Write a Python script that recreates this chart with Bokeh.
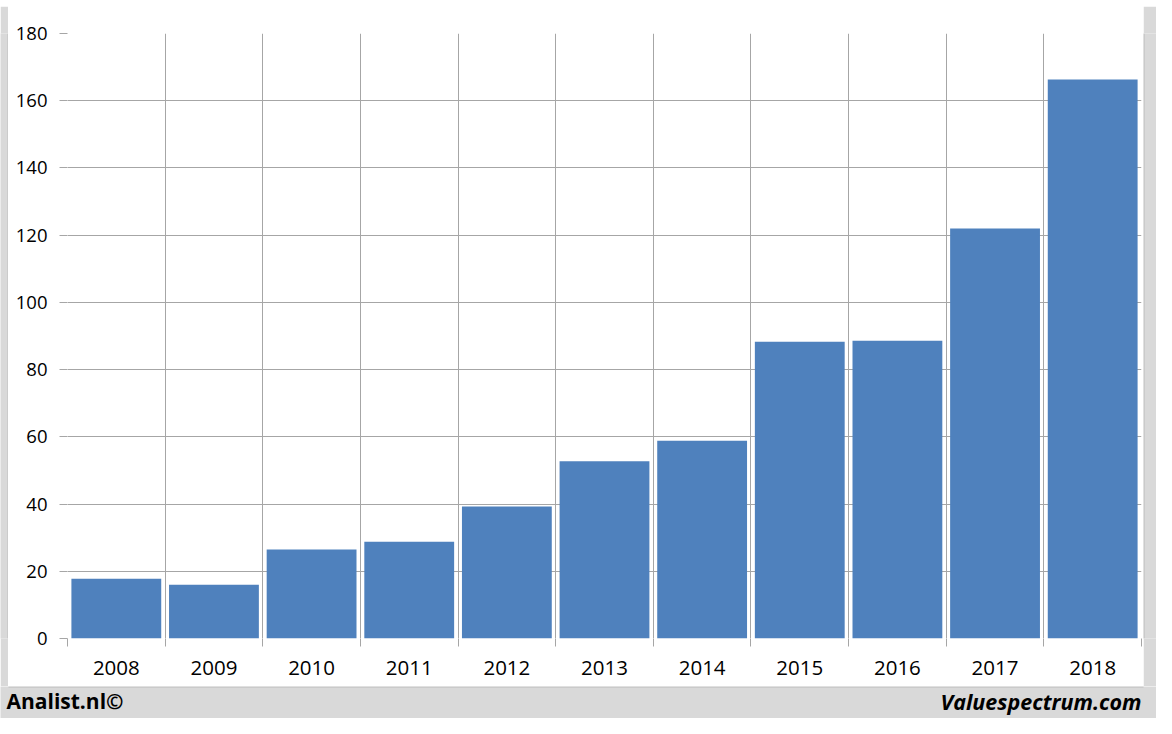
from bokeh.plotting import figure
from bokeh.models import Range1d, FixedTicker, ColumnDataSource
from bokeh.layouts import column, row
from bokeh.embed import file_html
from bokeh.resources import INLINE
from bokeh.core.properties import value

years = ["2008", "2009", "2010", "2011", "2012", "2013", "2014", "2015", "2016", "2017", "2018"]
values = [17.8, 16.0, 26.5, 28.8, 39.3, 52.7, 58.8, 88.3, 88.6, 122.0, 166.3]
y_ticks = [0, 20, 40, 60, 80, 100, 120, 140, 160, 180]

GRID = "#a6a6a6"
BAR = "#4f81bd"
BG = "#d9d9d9"
EDGE = "#bcbcbc"
FONT = "Open Sans"

n = len(years)
centers = [i + 0.5 for i in range(n)]
bounds = list(range(n + 1))
src = ColumnDataSource(dict(x=centers, top=values, year=years))


def filler(w, h):
    g = figure(width=w, height=h, output_backend="svg", toolbar_location=None,
               x_range=Range1d(0, w), y_range=Range1d(0, h),
               min_border=0, min_border_left=0, min_border_right=0,
               min_border_top=0, min_border_bottom=0)
    g.axis.visible = False
    g.grid.visible = False
    g.outline_line_color = None
    g.border_fill_color = BG
    g.background_fill_color = BG
    return g


p = figure(width=1135, height=680, output_backend="svg", toolbar_location=None,
           x_range=Range1d(0, n), y_range=Range1d(0, 180),
           min_border_left=59, min_border_right=2, min_border_top=27, min_border_bottom=48)
p.border_fill_color = "white"
p.background_fill_color = "white"
p.outline_line_color = None

p.vbar(x="x", top="top", width=0.92, bottom=0, source=src, fill_color=BAR, line_color=None)

p.xgrid.ticker = FixedTicker(ticks=bounds)
p.xgrid.grid_line_color = GRID
p.ygrid.ticker = FixedTicker(ticks=y_ticks)
p.ygrid.grid_line_color = GRID

p.xaxis.ticker = FixedTicker(ticks=centers, minor_ticks=bounds)
p.xaxis.major_label_overrides = {c: y for c, y in zip(centers, years)}
p.xaxis.axis_line_color = None
p.xaxis.major_tick_line_color = None
p.xaxis.major_tick_out = 0
p.xaxis.major_tick_in = 0
p.xaxis.minor_tick_line_color = GRID
p.xaxis.minor_tick_out = 8
p.xaxis.minor_tick_in = 0
p.xaxis.major_label_text_font = FONT
p.xaxis.major_label_text_font_size = "20.5px"
p.xaxis.major_label_text_color = "black"
p.xaxis.major_label_standoff = 14

p.yaxis.ticker = FixedTicker(ticks=y_ticks)
p.yaxis.axis_line_color = None
p.yaxis.major_tick_line_color = GRID
p.yaxis.major_tick_out = 8
p.yaxis.major_tick_in = 0
p.yaxis.minor_tick_line_color = None
p.yaxis.major_label_text_font = FONT
p.yaxis.major_label_text_font_size = "18.5px"
p.yaxis.major_label_text_color = "black"
p.yaxis.major_label_standoff = 12

top_strip = filler(1156, 6)
top_strip.segment(x0=[8], y0=[0.5], x1=[1143], y1=[0.5], line_color=EDGE, line_width=1)
left_strip = filler(8, 680)
left_strip.segment(x0=[7.5], y0=[0], x1=[7.5], y1=[680], line_color=EDGE, line_width=1)
right_strip = filler(13, 680)
right_strip.segment(x0=[0.5], y0=[0], x1=[0.5], y1=[680], line_color=EDGE, line_width=1)
footer = filler(1156, 32)
footer.segment(x0=[8], y0=[31.5], x1=[1143], y1=[31.5], line_color=EDGE, line_width=1)
footer.text(x=[6], y=[32], text=["Analist.nl©"], text_font=value(FONT), text_font_style="bold",
            text_font_size="21px", text_color="black", text_align="left", text_baseline="top")
footer.text(x=[1141], y=[32], text=["Valuespectrum.com"], text_font=value(FONT),
            text_font_style="bold italic", text_font_size="21.5px", text_color="black",
            text_align="right", text_baseline="top")

root = column(top_strip, row(left_strip, p, right_strip, spacing=0), footer, spacing=0)

open("out.html", "w").write(file_html(root, INLINE))
